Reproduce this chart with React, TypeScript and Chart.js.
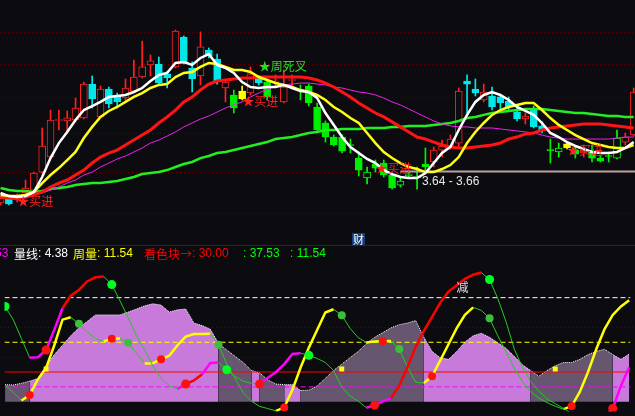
import React, { useEffect, useRef } from 'react';
import { Chart, registerables } from 'chart.js';
Chart.register(...registerables);

// ---------------- data: price panel ----------------
const candleOpen = [
  3.572, 3.600, 3.593, 3.643, 3.664, 3.796, 3.910, 4.202, 4.198, 4.206,
  4.223, 4.514, 4.231, 4.470, 4.409, 4.392, 4.452, 4.577, 4.687, 4.696,
  4.605, 4.669, 4.952, 4.659, 4.586, 4.827, 4.742, 4.479, 4.418, 4.452,
  4.435, 4.568, 4.532, 4.528, 4.358, 4.546, 4.466, 4.497, 4.315, 4.181,
  4.067, 4.067, 4.008, 3.902, 3.752, 3.857, 3.864, 3.774, 3.700, 3.770,
  3.755, 3.857, 3.872, 3.964, 3.980, 4.019, 4.541, 4.470, 4.375, 4.409,
  4.401, 4.366, 4.272, 4.214, 4.298, 4.157, 3.968, 3.949, 4.012, 3.964,
  3.941, 3.949, 3.902, 3.922, 3.902, 4.027, 4.084,
];
const candleHigh = [
  3.621, 3.607, 3.636, 3.737, 3.796, 4.140, 4.289, 4.289, 4.281, 4.392,
  4.532, 4.586, 4.497, 4.488, 4.435, 4.559, 4.733, 4.913, 4.780, 4.761,
  4.623, 5.021, 4.962, 4.715, 5.002, 4.846, 4.789, 4.550, 4.461, 4.497,
  4.669, 4.586, 4.550, 4.596, 4.641, 4.596, 4.506, 4.514, 4.349, 4.198,
  4.084, 4.084, 4.051, 3.949, 3.834, 3.887, 3.887, 3.789, 3.759, 3.804,
  3.834, 3.980, 3.988, 4.043, 4.084, 4.479, 4.596, 4.559, 4.514, 4.488,
  4.418, 4.401, 4.306, 4.264, 4.323, 4.190, 4.051, 4.019, 4.019, 3.996,
  4.004, 4.004, 3.918, 3.949, 4.124, 4.100, 4.479,
];
const candleLow = [
  3.558, 3.558, 3.579, 3.621, 3.643, 3.789, 3.902, 4.124, 4.108, 4.190,
  4.214, 4.306, 4.223, 4.306, 4.306, 4.375, 4.444, 4.568, 4.586, 4.506,
  4.479, 4.659, 4.696, 4.444, 4.506, 4.752, 4.514, 4.358, 4.264, 4.375,
  4.418, 4.506, 4.375, 4.488, 4.349, 4.470, 4.375, 4.323, 4.116, 4.027,
  3.996, 3.941, 3.941, 3.767, 3.708, 3.796, 3.759, 3.671, 3.686, 3.752,
  3.671, 3.811, 3.834, 3.910, 3.972, 3.980, 4.264, 4.409, 4.358, 4.289,
  4.298, 4.289, 4.198, 4.173, 4.140, 4.100, 3.864, 3.910, 3.972, 3.902,
  3.910, 3.872, 3.872, 3.872, 3.895, 4.004, 4.075,
];
const candleClose = [
  3.607, 3.565, 3.621, 3.679, 3.789, 3.996, 4.206, 4.210, 4.223, 4.306,
  4.514, 4.384, 4.470, 4.341, 4.358, 4.479, 4.577, 4.669, 4.724, 4.523,
  4.568, 5.011, 4.705, 4.559, 4.856, 4.771, 4.541, 4.532, 4.306, 4.384,
  4.605, 4.523, 4.401, 4.537, 4.488, 4.555, 4.457, 4.349, 4.124, 4.067,
  4.004, 3.956, 4.000, 3.811, 3.796, 3.826, 3.774, 3.679, 3.730, 3.778,
  3.763, 3.834, 3.964, 3.996, 4.051, 4.452, 4.514, 4.435, 4.444, 4.315,
  4.349, 4.315, 4.214, 4.239, 4.149, 4.116, 3.960, 3.980, 3.980, 3.933,
  3.964, 3.902, 3.879, 3.914, 4.059, 4.067, 4.444,
];
// n = normal, g = weak (green), y = signal (yellow)
const candleTone = 'nnnnnnnnnnnnnnnnnnnnnnnnnnnn' + 'gynngnnn' + 'gggggggggggggggg' + 'nnnnnnnnnnnnnn' + 'ggygnggggnn';

const maWhite = [
  3.643, 3.621, 3.614, 3.621, 3.650, 3.759, 3.902, 4.019, 4.108, 4.206,
  4.289, 4.323, 4.358, 4.401, 4.409, 4.418, 4.444, 4.479, 4.541, 4.596,
  4.614, 4.705, 4.714, 4.687, 4.752, 4.789, 4.687, 4.659, 4.614, 4.532,
  4.488, 4.479, 4.488, 4.488, 4.506, 4.479, 4.452, 4.444, 4.392, 4.264,
  4.165, 4.067, 3.988, 3.941, 3.895, 3.864, 3.811, 3.781, 3.759, 3.752,
  3.752, 3.789, 3.864, 3.941, 3.988, 4.124, 4.248, 4.358, 4.418, 4.444,
  4.418, 4.375, 4.315, 4.281, 4.248, 4.181, 4.100, 4.067, 4.027, 3.996,
  3.972, 3.949, 3.941, 3.941, 3.949, 3.980, 4.027,
];
const maYellow = [
  3.629, 3.621, 3.621, 3.629, 3.650, 3.715, 3.774, 3.826, 3.887, 3.949,
  4.059, 4.149, 4.231, 4.281, 4.315, 4.358, 4.401, 4.435, 4.479, 4.506,
  4.514, 4.577, 4.614, 4.623, 4.669, 4.705, 4.696, 4.669, 4.641, 4.641,
  4.623, 4.577, 4.550, 4.523, 4.506, 4.488, 4.461, 4.444, 4.418, 4.375,
  4.315, 4.272, 4.222, 4.181, 4.100, 4.019, 3.949, 3.902, 3.864, 3.834,
  3.819, 3.796, 3.796, 3.819, 3.849, 3.910, 4.019, 4.108, 4.181, 4.248,
  4.289, 4.315, 4.332, 4.349, 4.349, 4.289, 4.222, 4.165, 4.124, 4.083,
  4.051, 4.019, 4.004, 3.988, 3.980, 3.980, 4.004,
];
const maRed = [
  3.614, 3.607, 3.607, 3.614, 3.629, 3.650, 3.686, 3.715, 3.737, 3.774,
  3.811, 3.864, 3.910, 3.941, 3.964, 4.004, 4.043, 4.083, 4.124, 4.181,
  4.231, 4.289, 4.358, 4.401, 4.461, 4.514, 4.541, 4.550, 4.559, 4.568,
  4.568, 4.577, 4.577, 4.577, 4.577, 4.577, 4.577, 4.568, 4.550, 4.523,
  4.488, 4.444, 4.401, 4.349, 4.306, 4.264, 4.231, 4.190, 4.149, 4.108,
  4.067, 4.051, 4.027, 4.004, 3.988, 3.980, 3.980, 3.988, 3.996, 4.004,
  4.019, 4.051, 4.067, 4.092, 4.100, 4.124, 4.140, 4.149, 4.157, 4.165,
  4.173, 4.173, 4.173, 4.165, 4.157, 4.149, 4.140,
];
const maMagenta = [
  3.607, 3.600, 3.600, 3.607, 3.629, 3.643, 3.664, 3.686, 3.715, 3.737,
  3.774, 3.796, 3.834, 3.864, 3.895, 3.918, 3.949, 3.980, 4.019, 4.043,
  4.075, 4.108, 4.149, 4.181, 4.214, 4.239, 4.272, 4.306, 4.332, 4.358,
  4.401, 4.435, 4.470, 4.488, 4.506, 4.514, 4.523, 4.523, 4.514, 4.506,
  4.488, 4.479, 4.461, 4.444, 4.435, 4.418, 4.392, 4.358, 4.332, 4.298,
  4.264, 4.231, 4.198, 4.173, 4.157, 4.149, 4.149, 4.140, 4.140, 4.140,
  4.132, 4.124, 4.116, 4.108, 4.100, 4.083, 4.067, 4.059, 4.051, 4.051,
  4.051, 4.051, 4.051, 4.051, 4.059, 4.067, 4.067,
];
const maGreen = [
  3.679, 3.664, 3.657, 3.657, 3.650, 3.657, 3.671, 3.679, 3.686, 3.700,
  3.708, 3.715, 3.715, 3.722, 3.730, 3.744, 3.759, 3.781, 3.789, 3.796,
  3.811, 3.834, 3.857, 3.872, 3.902, 3.918, 3.941, 3.949, 3.964, 3.980,
  3.996, 4.011, 4.027, 4.051, 4.059, 4.067, 4.083, 4.100, 4.108, 4.124,
  4.124, 4.132, 4.132, 4.132, 4.140, 4.140, 4.140, 4.149, 4.149, 4.157,
  4.157, 4.157, 4.165, 4.173, 4.181, 4.198, 4.222, 4.231, 4.248, 4.264,
  4.272, 4.281, 4.289, 4.298, 4.298, 4.298, 4.289, 4.281, 4.272, 4.264,
  4.264, 4.256, 4.248, 4.239, 4.239, 4.231, 4.231,
];
const priceGrid = [3.5, 3.8, 4.1, 4.4, 4.7, 5.0];
const signalIdx = [2, 29, 31, 45, 68];
const signalPrice = [3.586, 4.358, 4.669, 3.826, 3.964];
const signalText = ['★买进', '★买进', '★周死叉', '★买进', '★买进'];
const signalBuy = [true, true, false, true, true];
const rangeStartIdx = 48;
const rangeLevel = 3.8;
const rangeLabel = '3.64 - 3.66';
const rangeLabelIdx = 50.6;
const rangeLabelPrice = 3.722;

// ---------------- data: indicator panel ----------------
const envelope = [
  11.5, 11.3, 12.4, 13.8, 15.7, 24.2, 31.7, 38.0, 44.4, 49.7,
  54.0, 58.4, 58.4, 58.4, 58.4, 60.3, 62.4, 64.5, 65.9, 65.0,
  60.3, 61.8, 62.4, 52.9, 51.2, 48.8, 39.1, 34.8, 30.6, 26.4,
  21.0, 19.4, 14.6, 11.9, 11.5, 11.5, 7.5, 7.8, 10.6, 15.7,
  21.0, 25.3, 29.6, 33.8, 39.1, 43.3, 46.5, 49.7, 51.8, 52.9,
  54.6, 43.3, 33.8, 29.6, 28.5, 33.8, 40.1, 44.4, 46.1, 43.3,
  39.7, 35.9, 30.6, 24.8, 21.0, 17.2, 21.0, 24.2, 26.4, 26.4,
  28.5, 31.7, 33.8, 35.3, 31.7, 28.5, 32.1,
];
const envelopeZone = '111' + '00000000000000000000000' + '1111' + '0' + '111' + '00' + '111111111111111' + '0000000000000' + '1111111111' + '000';
const fastLine = [
  64.1, 55.2, 42.5, 29.6, 29.9, 34.8, 48.5, 62.9, 71.3, 75.2,
  80.9, 83.7, 84.3, 78.8, 67.8, 56.5, 44.4, 34.8, 24.2, 15.7,
  10.8, 8.7, 11.9, 14.3, 18.5, 26.1, 26.4, 21.5, 17.0, 13.8,
  12.4, 11.9, 16.2, 20.0, 25.3, 32.1, 32.7, 31.2, 29.1, 26.4,
  21.0, 10.0, 3.9, 0.4, -4.0, -2.3, 0.3, 2.4, 10.8, 23.2,
  36.9, 47.6, 57.1, 66.7, 74.1, 78.3, 82.6, 85.4, 86.9, 82.2,
  69.4, 53.9, 35.5, 23.2, 13.6, 7.3, 1.9, -1.3, -4.5, -7.8,
  -9.7, -11.0, -11.0, -9.7, -4.5, 10.8, 23.2,
];
const fastStrong = [7, 8, 9, 10, 11, 22, 23, 47, 48, 49, 50, 51, 52, 53, 54, 55, 56, 57];
const fastTroughs = [5, 22, 31, 45, 74];
const fastPeaks = [0, 13, 27, 37, 59];
const midLine = [
  11.3, 6.2, 0.8, 4.5, 15.1, 22.7, 38.0, 55.2, 56.8, 52.4,
  46.9, 42.5, 40.6, 42.3, 42.5, 39.7, 32.6, 25.7, 25.9, 28.5,
  31.0, 38.0, 43.8, 45.5, 45.6, 45.7, 38.3, 25.3, 15.7, 6.2,
  0.4, -3.1, -4.6, -6.1, -3.8, 8.1, 23.2, 36.4, 48.2, 60.0,
  62.2, 58.2, 49.5, 43.1, 39.9, 40.6, 40.7, 40.8, 35.5, 23.4,
  13.2, 12.5, 17.2, 27.8, 38.7, 49.5, 58.4, 63.5, 61.4, 56.1,
  44.4, 33.6, 22.7, 13.6, 6.8, 2.4, -0.5, -3.1, -5.0, -2.9,
  6.8, 20.2, 35.5, 48.9, 58.4, 64.1, 68.3,
];
const midTroughs = [3, 13, 19, 34, 46, 52, 69];
const midPeaks = [9, 15, 26, 41, 48, 59];
const markIdx = [5, 41, 67];
const markLevel = 22;
const refLevels = [70, 40, 20, 10];
const dotLevels = [30, 50];
const legendLabels = ['53', '量线', '周量', '看色块→', '', ''];
const legendValues = [null, 4.38, 11.54, 30.0, 37.53, 11.54];
const noteText = '减';
const noteIdx = 55.7;
const noteLevel = 76.6;

// ---------------- layout / style ----------------
const BG = '#0c0c10';
const X_MIN = -0.066;
const X_MAX = 76.16;
const LEGEND_X = [-5, 14, 73, 144, 243, 290];
const LEGEND_COLORS = ['#ff00ff', '#ffffff', '#ffff00', '#ff0000', '#00ff00', '#00ff00'];
const REF_COLORS = ['#ffffff', '#ffff00', '#ff0000', '#ff00ff'];
const REF_DASH = [[5, 3], [5, 3], [], [5, 3]];
const NUM_FONT = '12px "Liberation Sans", sans-serif';
const CJK_FONT = '12px "Noto Sans CJK SC", sans-serif';

const idx = candleOpen.map((_, i) => i);

function candleStyle(i: number) {
  const up = candleClose[i] >= candleOpen[i];
  const t = candleTone[i];
  if (t === 'y') return { line: '#ffff00', fill: '#ffff00' };
  if (t === 'g') return up ? { line: '#00ff00', fill: BG } : { line: '#00ee00', fill: '#00ee00' };
  return up ? { line: '#ff2222', fill: BG } : { line: '#00e8e8', fill: '#00e8e8' };
}

export default function App() {
  const topRef = useRef<HTMLCanvasElement>(null);
  const botRef = useRef<HTMLCanvasElement>(null);

  useEffect(() => {
    document.body.style.margin = '0';
    document.body.style.background = BG;

    const lineDs = (arr: number[], color: string, width: number, order: number) => ({
      type: 'line' as const,
      data: idx.map((i) => ({ x: i, y: arr[i] })),
      borderColor: color,
      borderWidth: width,
      pointRadius: 0,
      tension: 0,
      fill: false,
      order,
    });

    const topPlugin = {
      id: 'topDeco',
      beforeDatasetsDraw(chart: any) {
        const { ctx, width } = chart;
        const y = chart.scales.y;
        ctx.save();
        ctx.strokeStyle = '#660000';
        ctx.lineWidth = 1;
        ctx.setLineDash([1, 3]);
        for (const p of priceGrid) {
          const py = Math.round(y.getPixelForValue(p)) + 0.5;
          ctx.beginPath();
          ctx.moveTo(0, py);
          ctx.lineTo(width, py);
          ctx.stroke();
        }
        ctx.restore();
      },
      afterDatasetsDraw(chart: any) {
        const { ctx, width } = chart;
        const x = chart.scales.x;
        const y = chart.scales.y;
        ctx.save();
        ctx.textBaseline = 'middle';
        ctx.textAlign = 'left';
        ctx.font = CJK_FONT;
        signalIdx.forEach((si, k) => {
          ctx.fillStyle = signalBuy[k] ? '#ff2020' : '#22e022';
          ctx.fillText(signalText[k], x.getPixelForValue(si), y.getPixelForValue(signalPrice[k]));
        });
        ctx.font = NUM_FONT;
        ctx.fillStyle = '#e8e8e8';
        ctx.fillText(rangeLabel, x.getPixelForValue(rangeLabelIdx), y.getPixelForValue(rangeLabelPrice));
        // 财 badge
        ctx.fillStyle = '#123e7c';
        ctx.fillRect(352, 233, 13, 12);
        ctx.fillStyle = '#ffffff';
        ctx.textAlign = 'center';
        ctx.font = '11px "Noto Sans CJK SC", sans-serif';
        ctx.fillText('财', 358.5, 239.5);
        // separator
        ctx.strokeStyle = '#800000';
        ctx.lineWidth = 1;
        ctx.beginPath();
        ctx.moveTo(0, 245.5);
        ctx.lineTo(width, 245.5);
        ctx.stroke();
        ctx.restore();
      },
    };

    const top = new Chart(topRef.current!, {
      type: 'line',
      data: {
        datasets: [
          {
            type: 'bar',
            data: idx.map((i) => ({ x: i, y: [candleLow[i], candleHigh[i]] })),
            backgroundColor: idx.map((i) => candleStyle(i).line),
            borderWidth: 0,
            barThickness: 1,
            grouped: false,
            order: 20,
          } as any,
          {
            type: 'bar',
            data: idx.map((i) => ({ x: i, y: [candleOpen[i], candleClose[i]] })),
            backgroundColor: idx.map((i) => candleStyle(i).fill),
            borderColor: idx.map((i) => candleStyle(i).line),
            borderWidth: 1,
            borderSkipped: false,
            barThickness: 7,
            grouped: false,
            order: 19,
          } as any,
          {
            type: 'line',
            data: [
              { x: rangeStartIdx, y: rangeLevel },
              { x: X_MAX, y: rangeLevel },
            ],
            borderColor: '#a8a8a8',
            borderWidth: 2,
            pointRadius: 0,
            order: 15,
          },
          lineDs(maGreen, '#22ee22', 2.5, 6),
          lineDs(maMagenta, '#ee22ee', 1, 5),
          lineDs(maRed, '#ff1414', 3, 4),
          lineDs(maYellow, '#ffff14', 2.5, 3),
          lineDs(maWhite, '#ffffff', 2.5, 2),
        ],
      },
      options: {
        animation: false,
        responsive: false,
        devicePixelRatio: 1,
        events: [],
        layout: { padding: 0 },
        plugins: { legend: { display: false }, tooltip: { enabled: false } },
        scales: {
          x: { type: 'linear', min: X_MIN, max: X_MAX, display: false, offset: false, bounds: 'data' },
          y: { type: 'logarithmic', min: 3.282, max: 5.326, display: false, bounds: 'data' },
        },
      },
      plugins: [topPlugin],
    } as any);

    const botPlugin = {
      id: 'botDeco',
      beforeDatasetsDraw(chart: any) {
        const { ctx, width } = chart;
        const y = chart.scales.y;
        ctx.save();
        ctx.strokeStyle = '#660000';
        ctx.lineWidth = 1;
        ctx.setLineDash([1, 3]);
        for (const v of dotLevels) {
          const py = Math.round(y.getPixelForValue(v)) + 0.5;
          ctx.beginPath();
          ctx.moveTo(0, py);
          ctx.lineTo(width, py);
          ctx.stroke();
        }
        ctx.restore();
      },
      afterDatasetsDraw(chart: any) {
        const { ctx } = chart;
        const x = chart.scales.x;
        const y = chart.scales.y;
        ctx.save();
        ctx.textBaseline = 'middle';
        ctx.textAlign = 'left';
        legendLabels.forEach((lab, k) => {
          const val = legendValues[k];
          let px = LEGEND_X[k];
          ctx.fillStyle = LEGEND_COLORS[k];
          if (val === null) {
            ctx.font = NUM_FONT;
            ctx.fillText(lab, px, 8);
            return;
          }
          ctx.font = CJK_FONT;
          ctx.fillText(lab, px, 8);
          px += ctx.measureText(lab).width;
          ctx.font = NUM_FONT;
          ctx.fillText(': ' + val.toFixed(2), px, 8);
        });
        ctx.fillStyle = '#dddddd';
        ctx.textAlign = 'center';
        ctx.font = CJK_FONT;
        ctx.fillText(noteText, x.getPixelForValue(noteIdx), y.getPixelForValue(noteLevel));
        ctx.restore();
      },
    };

    const dotRadius = (peaks: number[], troughs: number[], r: number) => (c: any) =>
      peaks.includes(c.dataIndex) || troughs.includes(c.dataIndex) ? r : 0;
    const dotColor = (troughs: number[], green: string) => (c: any) =>
      troughs.includes(c.dataIndex) ? '#ff1010' : green;

    const bot = new Chart(botRef.current!, {
      type: 'line',
      data: {
        datasets: [
          {
            data: idx.map((i) => ({ x: i, y: envelope[i] })),
            borderColor: '#ffffff',
            borderWidth: 1,
            borderDash: [1, 1],
            backgroundColor: '#c77ad9',
            fill: 'origin',
            pointRadius: 0,
            tension: 0,
            segment: {
              backgroundColor: (c: any) => (envelopeZone[c.p0DataIndex] === '1' ? '#66566f' : '#c77ad9'),
            },
            order: 10,
          },
          ...refLevels.map((v, k) => ({
            data: [
              { x: X_MIN, y: v },
              { x: X_MAX, y: v },
            ],
            borderColor: REF_COLORS[k],
            borderWidth: 1,
            borderDash: REF_DASH[k],
            pointRadius: 0,
            fill: false,
            order: 6,
          })),
          {
            data: idx.map((i) => ({ x: i, y: midLine[i] })),
            borderColor: '#ffff00',
            borderWidth: 2.5,
            pointRadius: dotRadius(midPeaks, midTroughs, 4),
            pointBackgroundColor: dotColor(midTroughs, '#3cc03c'),
            pointBorderWidth: 0,
            tension: 0,
            fill: false,
            segment: {
              borderColor: (c: any) => (c.p1.parsed.y < c.p0.parsed.y ? '#22cc22' : '#ffff00'),
              borderWidth: (c: any) => (c.p1.parsed.y < c.p0.parsed.y ? 1 : 2.5),
            },
            order: 3,
          },
          {
            data: idx.map((i) => ({ x: i, y: fastLine[i] })),
            borderColor: '#ff0000',
            borderWidth: 2.5,
            pointRadius: dotRadius(fastPeaks, fastTroughs, 4.5),
            pointBackgroundColor: dotColor(fastTroughs, '#00ff22'),
            pointBorderWidth: 0,
            tension: 0,
            fill: false,
            segment: {
              borderColor: (c: any) =>
                c.p1.parsed.y < c.p0.parsed.y ? '#22cc22' : fastStrong.includes(c.p0DataIndex) ? '#ff0000' : '#ff00ff',
              borderWidth: (c: any) => (c.p1.parsed.y < c.p0.parsed.y ? 1 : 2.5),
            },
            order: 2,
          },
          {
            data: markIdx.map((i) => ({ x: i, y: markLevel })),
            showLine: false,
            pointStyle: 'rect',
            pointRadius: 3.5,
            pointBackgroundColor: '#ffff00',
            pointBorderWidth: 0,
            order: 1,
          },
        ],
      },
      options: {
        animation: false,
        responsive: false,
        devicePixelRatio: 1,
        events: [],
        layout: { padding: 0 },
        plugins: { legend: { display: false }, tooltip: { enabled: false } },
        scales: {
          x: { type: 'linear', min: X_MIN, max: X_MAX, display: false, offset: false, bounds: 'data' },
          y: { type: 'linear', min: -6.56, max: 101.72, display: false, bounds: 'data' },
        },
      },
      plugins: [botPlugin],
    } as any);

    return () => {
      top.destroy();
      bot.destroy();
    };
  }, []);

  return (
    <div style={{ position: 'relative', width: 635, height: 416, background: BG, overflow: 'hidden' }}>
      <canvas ref={topRef} width={635} height={246} style={{ position: 'absolute', left: 0, top: 0 }} />
      <canvas ref={botRef} width={635} height={170} style={{ position: 'absolute', left: 0, top: 246 }} />
    </div>
  );
}
